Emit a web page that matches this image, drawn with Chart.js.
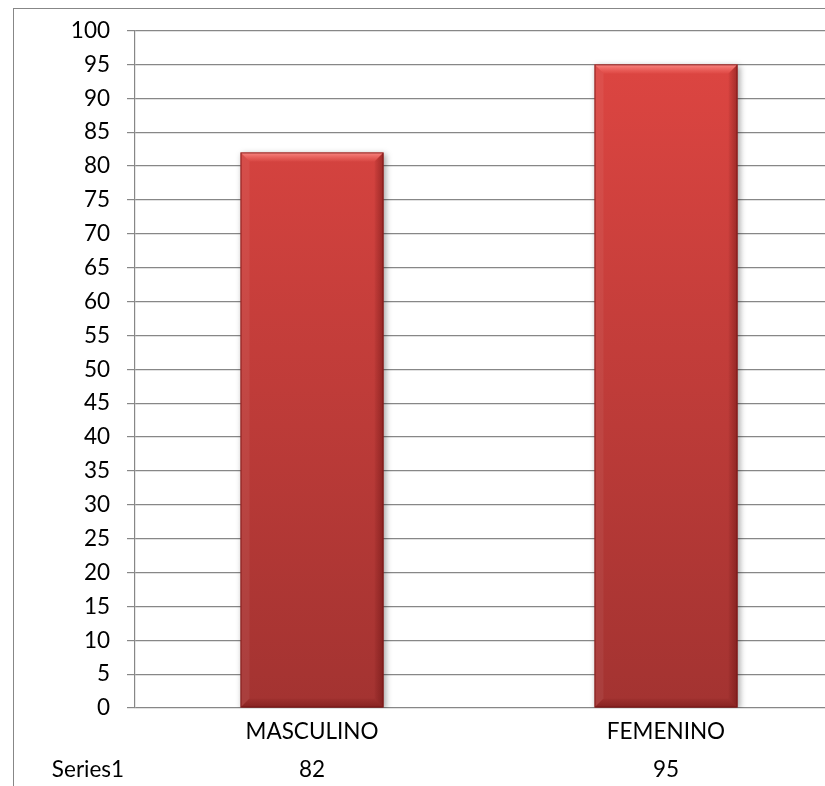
<!DOCTYPE html>
<html>
<head>
<meta charset="utf-8">
<script src="https://cdn.jsdelivr.net/npm/chart.js@4/dist/chart.umd.min.js"></script>
<style>
    html, body { margin: 0; padding: 0; background: #fff; overflow: hidden; }
    #wrap { width: 825px; height: 786px; overflow: hidden; }
</style>
</head>
<body>
<div id="wrap"><canvas id="genderChart" width="860" height="786"></canvas></div>
<script>
    // Chart data
    const categories = ['MASCULINO', 'FEMENINO'];
    const seriesName = 'Series1';
    const seriesValues = [82, 95];
    const yTicks = { min: 0, max: 100, step: 5 };

    const gridColor = '#878787';
    const fontFamily = 'Lato, "Open Sans", sans-serif';
    const fontSize = 22.5;

    // outer frame + data table under the axis
    const framePlugin = {
        id: 'frame',
        beforeDraw(chart) {
            const ctx = chart.ctx;
            ctx.save();
            ctx.fillStyle = '#fff';
            ctx.fillRect(0, 0, chart.width, chart.height);
            ctx.strokeStyle = gridColor;
            ctx.lineWidth = 1;
            ctx.strokeRect(13.5, 8.5, 2000, 2000);
            ctx.restore();
        },
        afterDraw(chart) {
            const ctx = chart.ctx;
            const x = chart.scales.x;
            const rowY = 770;
            ctx.save();
            ctx.font = fontSize + 'px ' + fontFamily;
            ctx.fillStyle = '#000';
            ctx.textAlign = 'center';
            ctx.textBaseline = 'middle';
            ctx.fillText(seriesName, 88, rowY);
            seriesValues.forEach((v, i) => {
                ctx.fillText(String(v), x.getPixelForValue(i), rowY);
            });
            ctx.restore();
        }
    };

    // shadow + bevel look for the bars
    const bevelPlugin = {
        id: 'bevel',
        beforeDatasetDraw(chart) {
            const ctx = chart.ctx;
            ctx.save();
            ctx.shadowColor = 'rgba(0,0,0,0.35)';
            ctx.shadowBlur = 6;
            ctx.shadowOffsetX = 2;
            ctx.shadowOffsetY = 2;
        },
        afterDatasetDraw(chart, args) {
            const ctx = chart.ctx;
            ctx.restore();
            const b = 9;
            args.meta.data.forEach(bar => {
                const p = bar.getProps(['x', 'y', 'base', 'width'], true);
                const l = p.x - p.width / 2, r = p.x + p.width / 2;
                const t = p.y, bt = p.base;
                ctx.save();
                // top highlight
                const g = ctx.createLinearGradient(0, t, 0, t + b);
                g.addColorStop(0, 'rgba(255,150,145,0.85)');
                g.addColorStop(1, 'rgba(255,120,115,0.1)');
                ctx.fillStyle = g;
                ctx.beginPath();
                ctx.moveTo(l, t); ctx.lineTo(r, t); ctx.lineTo(r - b, t + b); ctx.lineTo(l + b, t + b); ctx.closePath();
                ctx.fill();
                // left edge
                ctx.fillStyle = 'rgba(255,255,255,0.06)';
                ctx.beginPath();
                ctx.moveTo(l, t); ctx.lineTo(l + b, t + b); ctx.lineTo(l + b, bt - b); ctx.lineTo(l, bt); ctx.closePath();
                ctx.fill();
                // right edge
                const gr = ctx.createLinearGradient(r - b, 0, r, 0);
                gr.addColorStop(0, 'rgba(90,10,10,0.05)');
                gr.addColorStop(1, 'rgba(90,10,10,0.45)');
                ctx.fillStyle = gr;
                ctx.beginPath();
                ctx.moveTo(r, t); ctx.lineTo(r, bt); ctx.lineTo(r - b, bt - b); ctx.lineTo(r - b, t + b); ctx.closePath();
                ctx.fill();
                // bottom edge
                const gb = ctx.createLinearGradient(0, bt - b, 0, bt);
                gb.addColorStop(0, 'rgba(90,10,10,0.05)');
                gb.addColorStop(1, 'rgba(90,10,10,0.4)');
                ctx.fillStyle = gb;
                ctx.beginPath();
                ctx.moveTo(l, bt); ctx.lineTo(r, bt); ctx.lineTo(r - b, bt - b); ctx.lineTo(l + b, bt - b); ctx.closePath();
                ctx.fill();
                ctx.strokeStyle = 'rgba(120,20,20,0.8)';
                ctx.lineWidth = 1;
                ctx.strokeRect(l + 0.5, t + 0.5, p.width - 1, bt - t - 1);
                ctx.restore();
            });
        }
    };

    const ctxEl = document.getElementById('genderChart');
    new Chart(ctxEl, {
        type: 'bar',
        data: {
            labels: categories,
            datasets: [{
                label: seriesName,
                data: seriesValues,
                backgroundColor: function (context) {
                    const area = context.chart.chartArea;
                    if (!area) return '#d2403c';
                    const g = context.chart.ctx.createLinearGradient(0, area.top, 0, area.bottom);
                    g.addColorStop(0, '#df4642');
                    g.addColorStop(1, '#a33331');
                    return g;
                },
                borderWidth: 0,
                categoryPercentage: 1,
                barPercentage: 0.404
            }]
        },
        options: {
            responsive: false,
            animation: false,
            layout: {
                padding: { top: 30, right: 17, left: 0, bottom: 0 }
            },
            plugins: {
                legend: { display: false },
                tooltip: { enabled: false }
            },
            scales: {
                y: {
                    min: yTicks.min,
                    max: yTicks.max,
                    ticks: {
                        stepSize: yTicks.step,
                        color: '#000',
                        padding: 17,
                        font: { family: fontFamily, size: fontSize }
                    },
                    grid: {
                        color: gridColor,
                        lineWidth: 1.2,
                        tickLength: 8
                    },
                    border: { color: gridColor, width: 1.2 },
                    afterFit: function (scale) { scale.width = 135; }
                },
                x: {
                    grid: { display: false, drawTicks: false },
                    border: { display: false },
                    ticks: {
                        color: '#000',
                        padding: 10,
                        font: { family: fontFamily, size: fontSize }
                    },
                    afterFit: function (scale) { scale.height = 78; }
                }
            }
        },
        plugins: [framePlugin, bevelPlugin]
    });
</script>
</body>
</html>
